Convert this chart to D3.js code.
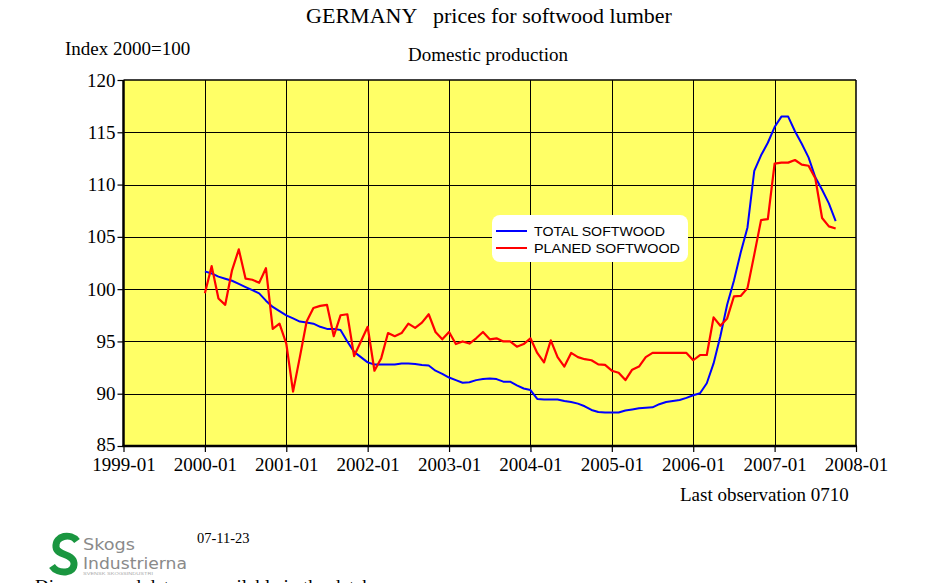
<!DOCTYPE html>
<html lang="en">
<head>
<meta charset="UTF-8">
<script src="https://d3js.org/d3.v7.min.js"></script>
<style>
    body { margin: 0; background: #fff; }
    svg { display: block; }
    .serif { font-family: "Liberation Serif", "Times New Roman", serif; fill: #000; }
    .grid line { stroke: #000; stroke-width: 1; shape-rendering: crispEdges; }
    .grid .domain { display: none; }
    .axis text { font-family: "Liberation Serif", "Times New Roman", serif; font-size: 19px; fill: #000; }
    .axis line { stroke: #000; stroke-width: 1.2; }
    .axis .domain { display: none; }
</style>
</head>
<body>
<svg width="926" height="583" id="chart"></svg>
<script>
// tick labels
const xTickLabels = ["1999-01", "2000-01", "2001-01", "2002-01", "2003-01",
                     "2004-01", "2005-01", "2006-01", "2007-01", "2008-01"];
const yTicks = [85, 90, 95, 100, 105, 110, 115, 120];

// monthly series, 2000-01 .. 2007-10 (index 2000=100)
const totalSoftwood = [
    101.7, 101.5, 101.2, 101.0, 100.8, 100.5, 100.2, 99.9, 99.6, 98.9,
    98.3, 97.9, 97.5, 97.2, 96.9, 96.8, 96.7, 96.4, 96.2, 96.2,
    96.1, 95.0, 94.0, 93.5, 93.0, 92.8, 92.8, 92.8, 92.8, 92.9,
    92.9, 92.85, 92.75, 92.7, 92.2, 91.9, 91.55, 91.3, 91.05, 91.1,
    91.3, 91.4, 91.45, 91.4, 91.15, 91.15, 90.8, 90.5, 90.35, 89.5,
    89.45, 89.45, 89.45, 89.3, 89.2, 89.05, 88.8, 88.45, 88.25, 88.2,
    88.2, 88.2, 88.4, 88.5, 88.6, 88.65, 88.7, 89.0, 89.2, 89.3,
    89.4, 89.6, 89.85, 90.05, 91.0, 92.9, 95.5, 98.5, 100.8, 103.5,
    105.9, 111.3, 112.8, 114.0, 115.5, 116.5, 116.5, 115.1, 113.9, 112.6,
    110.7, 109.5, 108.2, 106.5
];
const planedSoftwood = [
    99.6, 102.2, 99.1, 98.5, 101.8, 103.8, 101.0, 100.9, 100.6, 102.0,
    96.2, 96.7, 94.8, 90.2, 93.5, 96.9, 98.2, 98.4, 98.5, 95.5,
    97.5, 97.6, 93.6, 95.0, 96.4, 92.2, 93.4, 95.8, 95.5, 95.8,
    96.7, 96.3, 96.8, 97.6, 95.9, 95.2, 95.9, 94.75, 95.0, 94.8,
    95.3, 95.9, 95.2, 95.3, 95.0, 95.0, 94.5, 94.75, 95.3, 93.9,
    93.0, 95.1, 93.5, 92.6, 93.9, 93.5, 93.3, 93.2, 92.8, 92.75,
    92.2, 92.0, 91.3, 92.3, 92.6, 93.5, 93.9, 93.9, 93.9, 93.9,
    93.9, 93.9, 93.2, 93.7, 93.7, 97.3, 96.5, 97.2, 99.3, 99.35,
    100.1, 103.3, 106.6, 106.7, 112.0, 112.1, 112.1, 112.35, 111.9, 111.8,
    110.6, 106.8, 106.0, 105.8
];
const seriesNames = ["TOTAL SOFTWOOD", "PLANED SOFTWOOD"];
const seriesColors = ["#0000ff", "#ff0000"];
const firstMonth = 12; // 2000-01, counted in months from 1999-01

const svg = d3.select("#chart");
const plotLeft = 123.5, plotRight = 856, plotTop = 80, plotBottom = 446;

// x: months since 1999-01
const xScale = d3.scaleLinear().domain([0, 108]).range([plotLeft, plotRight]);
const yScale = d3.scaleLinear().domain([85, 120]).range([plotBottom, plotTop]);

// plot background
svg.append("rect")
    .attr("x", plotLeft).attr("y", plotTop)
    .attr("width", plotRight - plotLeft).attr("height", plotBottom - plotTop)
    .attr("fill", "#ffff66");

// grid lines
const xTickVals = xTickLabels.map((d, i) => i * 12);
svg.append("g")
    .attr("class", "grid")
    .attr("transform", "translate(0," + plotBottom + ")")
    .call(d3.axisBottom(xScale).tickValues(xTickVals.slice(1, -1))
        .tickSize(-(plotBottom - plotTop)).tickFormat(""));
svg.append("g")
    .attr("class", "grid")
    .attr("transform", "translate(" + plotLeft + ",0)")
    .call(d3.axisLeft(yScale).tickValues(yTicks.slice(1, -1))
        .tickSize(-(plotRight - plotLeft)).tickFormat(""));

// frame: thin top/right, heavy left/bottom
svg.append("line").attr("x1", plotLeft).attr("x2", plotRight).attr("y1", plotTop).attr("y2", plotTop)
    .attr("stroke", "#000").attr("stroke-width", 1.5);
svg.append("line").attr("x1", plotRight).attr("x2", plotRight).attr("y1", plotTop).attr("y2", plotBottom)
    .attr("stroke", "#000").attr("stroke-width", 1.5);

// lines
const line = d3.line()
    .x((d, i) => xScale(firstMonth + i))
    .y(d => yScale(d));

svg.append("path").datum(totalSoftwood)
    .attr("fill", "none").attr("stroke", seriesColors[0])
    .attr("stroke-width", 2).attr("stroke-linejoin", "round")
    .attr("d", line);
svg.append("path").datum(planedSoftwood)
    .attr("fill", "none").attr("stroke", seriesColors[1])
    .attr("stroke-width", 2.2).attr("stroke-linejoin", "round")
    .attr("d", line);

svg.append("line").attr("x1", plotLeft).attr("x2", plotLeft).attr("y1", plotTop).attr("y2", plotBottom + 1)
    .attr("stroke", "#000").attr("stroke-width", 2.5);
svg.append("line").attr("x1", plotLeft - 1).attr("x2", plotRight + 1).attr("y1", plotBottom).attr("y2", plotBottom)
    .attr("stroke", "#000").attr("stroke-width", 2.5);

// axes
svg.append("g")
    .attr("class", "axis")
    .attr("transform", "translate(0," + plotBottom + ")")
    .call(d3.axisBottom(xScale).tickValues(xTickVals)
        .tickFormat((d, i) => xTickLabels[i]).tickSize(6).tickPadding(6));
const yAxis = svg.append("g")
    .attr("class", "axis")
    .attr("transform", "translate(" + plotLeft + ",0)")
    .call(d3.axisLeft(yScale).tickValues(yTicks).tickSize(6).tickPadding(2));
yAxis.selectAll("text").filter(d => d === 85).attr("dy", "0.22em");

// titles
svg.append("text").attr("class", "serif")
    .attr("x", 489).attr("y", 23)
    .attr("text-anchor", "middle")
    .style("font-size", "22px").style("white-space", "pre")
    .text("GERMANY   prices for softwood lumber");
svg.append("text").attr("class", "serif")
    .attr("x", 65).attr("y", 55)
    .style("font-size", "19px")
    .text("Index 2000=100");
svg.append("text").attr("class", "serif")
    .attr("x", 488).attr("y", 61)
    .attr("text-anchor", "middle")
    .style("font-size", "19px")
    .text("Domestic production");
svg.append("text").attr("class", "serif")
    .attr("x", 680).attr("y", 501)
    .style("font-size", "19px")
    .text("Last observation 0710");
svg.append("text").attr("class", "serif")
    .attr("x", 197).attr("y", 543)
    .style("font-size", "14.5px")
    .text("07-11-23");
svg.append("text").attr("class", "serif")
    .attr("x", 35).attr("y", 593)
    .style("font-size", "19px")
    .text("Diagrams and data are available in the database");

// legend
const legend = svg.append("g").attr("transform", "translate(492,215)");
legend.append("rect")
    .attr("width", 196).attr("height", 47)
    .attr("rx", 8).attr("fill", "#fff");
const legendLen = [131, 146];
seriesNames.forEach((name, i) => {
    const yy = 16 + i * 17;
    legend.append("line")
        .attr("x1", 4).attr("x2", 35).attr("y1", yy).attr("y2", yy)
        .attr("stroke", seriesColors[i]).attr("stroke-width", 2);
    legend.append("text")
        .attr("x", 42).attr("y", yy + 4.5)
        .attr("textLength", legendLen[i]).attr("lengthAdjust", "spacingAndGlyphs")
        .style("font-family", "'Liberation Sans', Arial, sans-serif")
        .style("font-size", "12px")
        .text(name);
});

// logo
const logo = svg.append("g");
logo.append("path")
    .attr("d", "M 77 541 C 71 533, 55 535, 56 547 C 57 556, 73 553, 74 563 C 75 574, 58 575, 52 566")
    .attr("fill", "none").attr("stroke", "#1a9640").attr("stroke-width", 7);
logo.append("text")
    .attr("x", 83).attr("y", 550)
    .attr("textLength", 52).attr("lengthAdjust", "spacingAndGlyphs")
    .style("font-family", "'Liberation Sans Narrow', 'DejaVu Sans Condensed', sans-serif")
    .style("font-size", "15px").attr("fill", "#8a8a8a")
    .text("Skogs");
logo.append("text")
    .attr("x", 83).attr("y", 569)
    .attr("textLength", 104).attr("lengthAdjust", "spacingAndGlyphs")
    .style("font-family", "'Liberation Sans Narrow', 'DejaVu Sans Condensed', sans-serif")
    .style("font-size", "15px").attr("fill", "#8a8a8a")
    .text("Industrierna");
logo.append("text")
    .attr("x", 83).attr("y", 575)
    .attr("textLength", 70).attr("lengthAdjust", "spacingAndGlyphs")
    .style("font-family", "sans-serif")
    .style("font-size", "3px").attr("fill", "#aaa")
    .text("SVENSK SKOGSINDUSTRI");
</script>
</body>
</html>
